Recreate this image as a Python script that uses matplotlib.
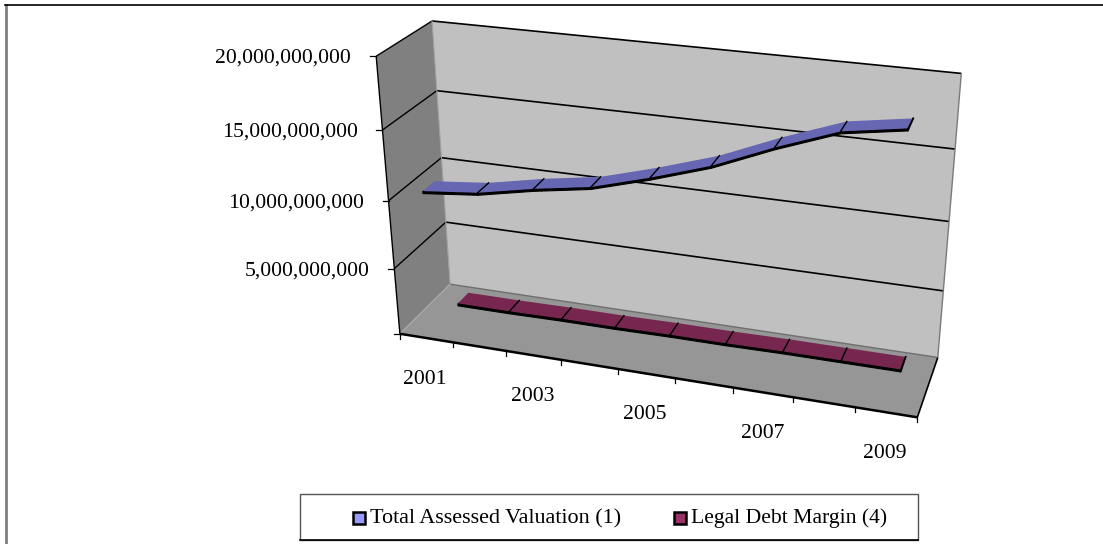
import matplotlib
matplotlib.use("Agg")
import matplotlib.pyplot as plt
import numpy as np
from matplotlib.patches import Polygon, Rectangle

plt.rcParams["font.family"] = ["Liberation Serif", "DejaVu Serif"]

years = [2001, 2002, 2003, 2004, 2005, 2006, 2007, 2008, 2009]
year_labels = ["2001", "2003", "2005", "2007", "2009"]
total_assessed = [10.5e9, 10.9e9, 11.7e9, 12.35e9, 13.5e9, 14.8e9, 16.5e9, 18.0e9, 18.65e9]
legal_debt = [0.15e9, 0.15e9, 0.2e9, 0.2e9, 0.25e9, 0.25e9, 0.3e9, 0.3e9, 0.3e9]
value_ticks = [5e9, 10e9, 15e9, 20e9]
value_labels = ["5,000,000,000", "10,000,000,000", "15,000,000,000", "20,000,000,000"]
names = ["Total Assessed Valuation (1)", "Legal Debt Margin (4)"]

VMAX = 20e9

# box reference points measured on the picture: (u, v, w) -> pixel
# u along years, v up the values, w into the depth
refs = [
    (0, 0, 0, 400, 333), (0, 1, 0, 376, 56), (0, 1, 1, 433, 22), (0, 0, 1, 450, 283),
    (1, 1, 1, 962, 73), (1, 0, 1, 938, 357), (1, 0, 0, 917, 417),
    (0, .25, 1, 445, 223), (0, .5, 1, 441, 158), (0, .75, 1, 437, 90),
    (1, .25, 1, 944, 291), (1, .5, 1, 949, 222), (1, .75, 1, 954, 149),
    (0, .25, 0, 395, 268), (0, .5, 0, 388, 200), (0, .75, 0, 382, 130),
    (1/9, 0, 0, 453, 343), (2/9, 0, 0, 507, 352), (3/9, 0, 0, 562, 360), (4/9, 0, 0, 617, 370),
    (5/9, 0, 0, 675, 378), (6/9, 0, 0, 733, 388), (7/9, 0, 0, 793, 397), (8/9, 0, 0, 855, 407),
]


def fit_camera(points):
    rows = []
    for u, v, w, x, y in points:
        rows.append([u, v, w, 1, 0, 0, 0, 0, -x * u, -x * v, -x * w, -x])
        rows.append([0, 0, 0, 0, u, v, w, 1, -y * u, -y * v, -y * w, -y])
    _, _, vt = np.linalg.svd(np.array(rows, dtype=float))
    return vt[-1].reshape(3, 4)


cam = fit_camera(refs)


def project(u, v, w):
    p = cam @ np.array([u, v, w, 1.0])
    return p[0] / p[2], p[1] / p[2]


def year_u(i):
    return (i + 0.5) / len(years)


def face(ax, corners, color, z=1):
    ax.add_patch(Polygon([project(*c) for c in corners], closed=True, fc=color, ec="none", zorder=z))


def edge(ax, a, b, color="black", lw=1.2, z=2):
    pa, pb = project(*a), project(*b)
    ax.plot([pa[0], pb[0]], [pa[1], pb[1]], color=color, lw=lw, zorder=z, solid_capstyle="butt")


def ribbon(ax, values, color, w0, w1, z):
    vs = np.asarray(values) / VMAX
    for i in range(len(vs) - 1):
        u0, u1 = year_u(i), year_u(i + 1)
        quad = [project(u0, vs[i], w0), project(u1, vs[i + 1], w0),
                project(u1, vs[i + 1], w1), project(u0, vs[i], w1)]
        under = [(x, y + 2.5) for x, y in quad[:2]]
        shadow = [quad[0], quad[1], under[1], under[0]]
        ax.add_patch(Polygon(shadow, closed=True, fc="black", ec="black", lw=0.8, zorder=z))
        ax.add_patch(Polygon(quad, closed=True, fc=color, ec="none", zorder=z + 1))
        ax.plot([quad[2][0], quad[1][0]], [quad[2][1], quad[1][1]], color="black", lw=1.0, zorder=z + 2)
    ax.plot([quad[1][0], quad[2][0]], [quad[1][1] + 2, quad[2][1]], color="black", lw=1.2, zorder=z + 2)


fig = plt.figure(figsize=(11.03, 5.44), dpi=100)
ax = fig.add_axes([0, 0, 1, 1])
ax.set_xlim(0, 1103)
ax.set_ylim(544, 0)
ax.axis("off")

# page frame
ax.plot([6, 6], [5, 544], color="#808080", lw=2)
ax.plot([5, 1103], [5, 5], color="black", lw=1.2)

# walls
face(ax, [(0, 0, 1), (1, 0, 1), (1, 1, 1), (0, 1, 1)], "#c0c0c0")
face(ax, [(0, 0, 0), (0, 0, 1), (0, 1, 1), (0, 1, 0)], "#808080")
face(ax, [(0, 0, 0), (1, 0, 0), (1, 0, 1), (0, 0, 1)], "#969696")

# gridlines, also running along the side wall
for t in [0] + value_ticks:
    v = t / VMAX
    if t > 0:
        edge(ax, (0, v, 1), (1, v, 1))
    else:
        edge(ax, (0, v, 1), (1, v, 1), color="#6e6e6e", lw=1)
    edge(ax, (0, v, 0), (0, v, 1), color="black" if t > 0 else "#a8a8a8", lw=1.0)
edge(ax, (1, 0, 0), (1, 0, 1), color="black", lw=1.2)
edge(ax, (1, 0, 1), (1, 1, 1), color="#7a7a7a", lw=1)
edge(ax, (0, 0, 1), (0, 1, 1), color="#a0a0a0", lw=0.8)

# axis lines and ticks
edge(ax, (0, 0, 0), (0, 1, 0), lw=1)
edge(ax, (0, 0, 0), (1, 0, 0), lw=1.8)
for t in [0] + value_ticks:
    x, y = project(0, t / VMAX, 0)
    ax.plot([x - 6, x], [y, y], color="black", lw=0.9, zorder=2)
for i in range(len(years) + 1):
    x, y = project(i / len(years), 0, 0)
    ax.plot([x, x], [y, y + 5], color="black", lw=0.9, zorder=2)

# tick labels
for t, lab in zip(value_ticks, value_labels):
    x, y = project(0, t / VMAX, 0)
    ax.text(x - 25, y + 2, lab, ha="right", va="center", fontsize=15.6, color="black")
for lab in year_labels:
    i = years.index(int(lab))
    x, y = project(year_u(i), 0, 0)
    ax.text(x - 1, y + 41, lab, ha="center", va="center", fontsize=15.6, color="black")

# series
ribbon(ax, legal_debt, "#772650", 0.64, 0.86, 5)
ribbon(ax, total_assessed, "#6666b3", 0.14, 0.36, 8)

# legend
ax.add_patch(Rectangle((300, 494), 618, 46, fc="white", ec="#555555", lw=1, zorder=3))
ax.plot([300, 918], [540, 540], color="black", lw=1.2, zorder=4)
ax.add_patch(Rectangle((352.5, 511.5), 12, 12, fc="#9999ff", ec="black", lw=1.8, zorder=4))
ax.text(370, 518.5, names[0], ha="left", va="center", fontsize=15.9, zorder=4)
ax.add_patch(Rectangle((674, 511.5), 12, 12, fc="#993366", ec="black", lw=1.8, zorder=4))
ax.text(691, 518.5, names[1], ha="left", va="center", fontsize=15.6, zorder=4)

fig.savefig("out.png", dpi=100)
plt.close(fig)
